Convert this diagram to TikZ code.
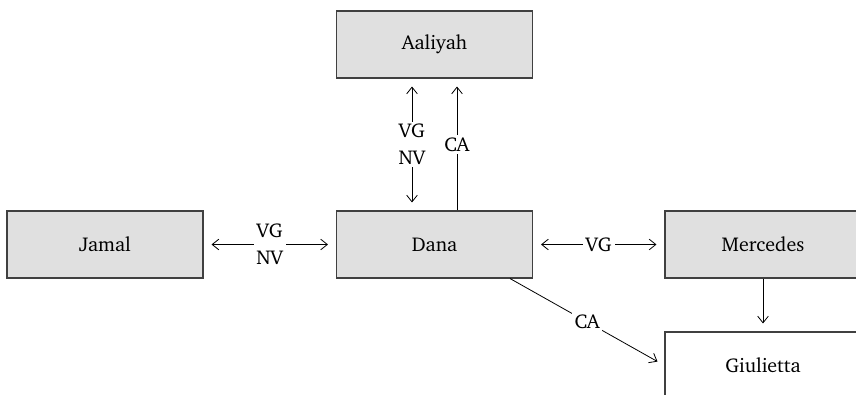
\documentclass[tikz,border=0pt]{standalone}
\usepackage[T1]{fontenc}
\usepackage{charter}
\usetikzlibrary{arrows.meta,calc}
\definecolor{BoxGray} {HTML}{E0E0E0}
\definecolor{EdgeGray}{HTML}{404040}
\tikzset{
  pbox/.style={rectangle,draw=EdgeGray,line width=0.8pt,fill=#1,
               minimum width=147pt,minimum height=50.25pt,
               font=\fontsize{15}{18}\selectfont},
  lbl/.style={fill=white,inner sep=2pt,align=center,
              font=\fontsize{15}{20}\selectfont},
  arr/.style={-{Straight Barb[length=5pt,width=8pt]},line width=0.6pt,
              shorten >=6pt},
  darr/.style={{Straight Barb[length=5pt,width=8pt]}-{Straight Barb[length=5pt,width=8pt]},
               line width=0.6pt,shorten >=6pt,shorten <=6pt},
}

\begin{document}
\begin{tikzpicture}[x=0.75pt,y=-0.75pt]

  \clip (0,0) rectangle (856,395);

  \node[pbox=BoxGray] (aaliyah)   at (434.5,44.5)  {Aaliyah};
  \node[pbox=BoxGray] (jamal)     at (105,244.5)   {Jamal};
  \node[pbox=BoxGray] (dana)      at (434.5,244.5) {Dana};
  \node[pbox=BoxGray] (mercedes)  at (763,244.5)   {Mercedes};
  \node[pbox=white]   (giulietta) at (763,365.5)   {Giulietta};

  \draw[darr] ($(aaliyah.south)+(-22.5,0)$) -- ($(dana.north)+(-22.5,0)$)
    node[lbl,midway] {VG\\NV};
  \draw[arr]  ($(dana.north)+(22.5,0)$) -- ($(aaliyah.south)+(22.5,0)$)
    node[lbl,midway] {CA};
  \draw[darr] (jamal.east) -- (dana.west) node[lbl,midway] {VG\\NV};
  \draw[darr] (dana.east) -- (mercedes.west) node[lbl,midway] {VG};
  \draw[arr]  (mercedes.south) -- (giulietta.north);
  \draw[arr]  ($(dana.south)+(75.5,0)$) -- (giulietta.west)
    node[lbl,midway] {CA};

\end{tikzpicture}
\end{document}
